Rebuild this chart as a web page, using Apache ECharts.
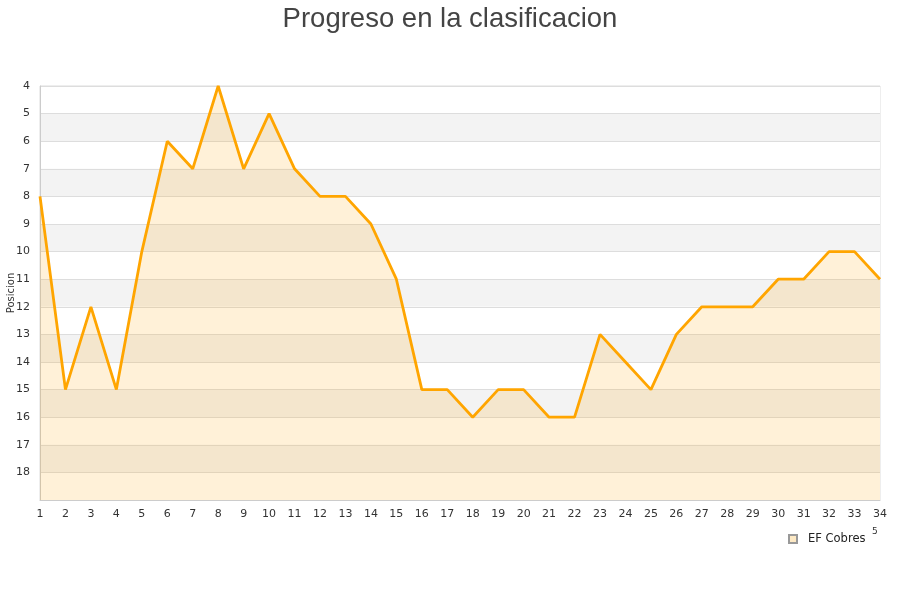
<!DOCTYPE html>
<html><head><meta charset="utf-8">
<script src="https://cdn.jsdelivr.net/npm/echarts@6/dist/echarts.min.js"></script>
<style>html,body{margin:0;padding:0;background:#fff}#c{width:900px;height:600px}</style>
</head><body><div id="c"></div>
<script>
var jornadas = ['1','2','3','4','5','6','7','8','9','10','11','12','13','14','15','16','17','18','19','20','21','22','23','24','25','26','27','28','29','30','31','32','33','34'];
var posiciones = [8,15,12,15,10,6,7,4,7,5,7,8,8,9,11,15,15,16,15,15,16,16,13,14,15,13,12,12,12,11,11,10,10,11];
var seriesName = 'EF Cobres';
var chart = echarts.init(document.getElementById('c'), null, {renderer:'canvas'});
chart.setOption({
  animation:false,
  title:{text:'Progreso en la clasificacion',left:'center',top:0,textStyle:{fontSize:27.5,fontWeight:'normal',color:'#444',fontFamily:'Liberation Sans'}},
  grid:{left:40,right:20,top:86,bottom:100,containLabel:false,outerBoundsMode:'none',show:true,borderColor:'#ddd',borderWidth:1},
  legend:{data:[{name:seriesName,icon:'rect'}],left:783,top:528,itemWidth:8,itemHeight:8,
    textStyle:{fontSize:11.5,color:'#222',fontFamily:'DejaVu Sans',padding:[0,0,0,6]}},
  xAxis:{type:'category',data:jornadas,boundaryGap:false,
    axisLine:{lineStyle:{color:'#ccc'}},axisTick:{show:false},
    axisLabel:{color:'#333',fontSize:11,margin:9,fontFamily:'DejaVu Sans'},splitLine:{show:false}},
  yAxis:{type:'value',inverse:true,min:4,max:19,interval:1,name:'Posicion',nameLocation:'middle',nameGap:24,nameMoveOverlap:false,
    nameTextStyle:{fontSize:10,color:'#333',fontFamily:'DejaVu Sans'},
    axisLine:{show:true,lineStyle:{color:'#ccc'}},axisTick:{show:false},
    axisLabel:{color:'#333',fontSize:11,margin:10,fontFamily:'DejaVu Sans',formatter:function(v){return v===19?'':v;}},
    splitLine:{lineStyle:{color:'#ddd'}},
    splitArea:{show:true,areaStyle:{color:['#ffffff','#f3f3f3']}}},
  series:[{name:seriesName,type:'line',data:posiciones,showSymbol:false,symbol:'none',
    lineStyle:{color:'#ffa500',width:2.8},itemStyle:{color:'#fde9c4',borderColor:'#999',borderWidth:1},
    areaStyle:{color:'rgba(255,165,0,0.22)',origin:'end'}}],
  graphic:[{type:'text',left:872,top:527,style:{text:'5',fontSize:9,fill:'#333',fontFamily:'DejaVu Sans'}}]
});
</script></body></html>
